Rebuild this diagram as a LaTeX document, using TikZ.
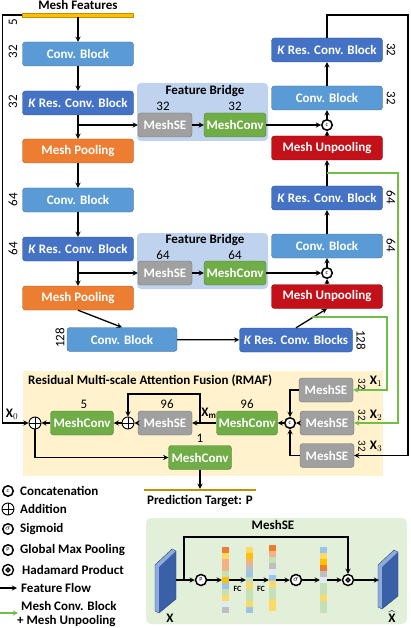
\documentclass[tikz,border=0pt,12pt]{standalone}
\usepackage{fontspec}
\setmainfont{Carlito}
\usepackage{amsmath}

% Colores
\definecolor{convc}{RGB}{91,155,213}
\definecolor{resc}{RGB}{68,114,196}
\definecolor{poolc}{RGB}{237,125,49}
\definecolor{unpc}{RGB}{196,16,24}
\definecolor{sec}{RGB}{160,160,160}
\definecolor{mcc}{RGB}{112,173,71}
\definecolor{bridgec}{RGB}{192,211,238}
\definecolor{rmafc}{RGB}{255,242,204}
\definecolor{panelc}{RGB}{226,239,217}
\definecolor{goldc}{RGB}{255,192,0}
\definecolor{predc}{RGB}{191,144,0}
\definecolor{flowg}{RGB}{112,190,70}
\definecolor{cor}{RGB}{237,125,49}
\definecolor{cpk}{RGB}{244,177,131}
\definecolor{cye}{RGB}{255,217,102}
\definecolor{cgo}{RGB}{255,192,0}
\definecolor{clb}{RGB}{157,195,230}
\definecolor{clg}{RGB}{197,224,180}
\definecolor{cgy}{RGB}{191,191,191}
\definecolor{cwb}{RGB}{222,235,247}

\newcommand\bigf{\fontsize{13}{15.6}\selectfont}

\tikzset{
  blk/.style={draw=#1!70!black, fill=#1, rounded corners=3pt, text=white, font=\bigf\bfseries, minimum height=24pt, inner sep=1pt},
  wide/.style={minimum width=111pt},
  seb/.style={blk=sec, minimum width=54pt},
  mcb/.style={blk=mcc, minimum width=62pt},
  cat/.style={circle, draw, line width=1.5pt, fill=white, inner sep=0pt, minimum size=10.5pt, font=\fontsize{6}{6}\selectfont},
  add/.style={circle, draw, line width=0.9pt, fill=white, inner sep=0pt, minimum size=12pt,
    path picture={\draw[line width=0.9pt] (path picture bounding box.north) -- (path picture bounding box.south)
      (path picture bounding box.west) -- (path picture bounding box.east);}},
  had/.style={circle, draw, line width=1.4pt, fill=white, inner sep=0pt, minimum size=11pt,
    path picture={\draw[line width=1.4pt] (path picture bounding box.center) circle (1.8pt);}},
  numl/.style={rotate=90},
  numr/.style={rotate=-90},
  flow/.style={->, line width=1.3pt},
  gflow/.style={->, line width=1.3pt, draw=flowg},
  ttl/.style={font=\bigf\bfseries},
  leg/.style={anchor=west, font=\bigf\bfseries}
}

\begin{document}
\begin{tikzpicture}[>=stealth, x=1pt, y=-1pt, font=\bigf]
  \useasboundingbox (0,0) rectangle (411,628);

  % Fondos
  \node[fill=bridgec, rounded corners=4pt, minimum width=131pt, minimum height=58pt] (fb1) at (202.5,112) {};
  \node[fill=bridgec, rounded corners=4pt, minimum width=131pt, minimum height=56pt] (fb2) at (202.5,261) {};
  \node[fill=rmafc, minimum width=360pt, minimum height=105pt] (rmaf) at (203,423.5) {};
  \node[fill=panelc, rounded corners=5pt, minimum width=261pt, minimum height=106pt] (sep) at (276.5,571) {};

  % Entrada
  \node[ttl] (feat) at (78,5) {Mesh Features};
  \node[fill=goldc, draw=predc, line width=0.4pt, minimum width=111pt, minimum height=3.5pt, inner sep=0pt] (bar) at (78,15) {};

  % Columna izquierda
  \node[blk=convc, wide] (cb1) at (78,54) {Conv. Block};
  \node[blk=resc, wide] (rb1) at (78,103) {\textit{K} Res. Conv. Block};
  \node[blk=poolc, wide] (mp1) at (78,151) {Mesh Pooling};
  \node[blk=convc, wide] (cb2) at (78,200) {Conv. Block};
  \node[blk=resc, wide] (rb2) at (78,249) {\textit{K} Res. Conv. Block};
  \node[blk=poolc, wide] (mp2) at (78,298) {Mesh Pooling};
  \node[blk=convc, minimum width=110pt] (cb3) at (122,339.5) {Conv. Block};

  \node[numl] at (13,22) {5};
  \node[numl] at (13,52) {32};
  \node[numl] at (13,102) {32};
  \node[numl] at (13,200) {64};
  \node[numl] at (13,249) {64};
  \node[numl] at (60,338) {128};

  % Puentes
  \node[ttl] (fb1t) at (205,91) {Feature Bridge};
  \node[seb] (se1) at (165,125) {MeshSE};
  \node[mcb] (mc1) at (235,125) {MeshConv};
  \node at (163,106) {32};
  \node at (235,106) {32};
  \node[ttl] (fb2t) at (205,240) {Feature Bridge};
  \node[seb] (se2) at (165,273) {MeshSE};
  \node[mcb] (mc2) at (235,273) {MeshConv};
  \node at (163,255) {64};
  \node at (235,255) {64};

  % Columna derecha
  \node[blk=resc, wide] (rb4) at (327,50) {\textit{K} Res. Conv. Block};
  \node[blk=convc, wide] (cb5) at (327,98) {Conv. Block};
  \node[cat] (c1) at (327,125) {c};
  \node[blk=unpc, wide] (up1) at (327,148) {Mesh Unpooling};
  \node[blk=resc, wide] (rb3) at (327,198) {\textit{K} Res. Conv. Block};
  \node[blk=convc, wide] (cb4) at (327,246) {Conv. Block};
  \node[cat] (c2) at (327,273) {c};
  \node[blk=unpc, wide] (up2) at (327,296.5) {Mesh Unpooling};
  \node[blk=resc, minimum width=113pt] (rbb) at (296,340) {\textit{K} Res. Conv. Blocks};

  \node[numr] at (391,50) {32};
  \node[numr] at (391,98) {32};
  \node[numr] at (391,197) {64};
  \node[numr] at (391,245) {64};
  \node[numr] at (361,340) {128};

  % RMAF
  \node[ttl, anchor=west] (rmaft) at (24,381) {Residual Multi-scale Attention Fusion (RMAF)};
  \node[add] (a0) at (35,423) {};
  \node[blk=mcc, minimum width=63pt] (mc5) at (82,423) {MeshConv};
  \node[add] (a1) at (128,423) {};
  \node[seb] (se96) at (165,423) {MeshSE};
  \node[mcb, minimum width=61pt] (mc96) at (247,423) {MeshConv};
  \node[cat] (c3) at (290,423) {c};
  \node[seb] (sx1) at (326,390) {MeshSE};
  \node[seb] (sx2) at (327,423) {MeshSE};
  \node[seb] (sx3) at (327,455.5) {MeshSE};
  \node[blk=mcc, minimum width=63pt] (mc1b) at (200,457.5) {MeshConv};

  \node at (84,404) {5};
  \node at (167,404) {96};
  \node at (247,404) {96};
  \node at (200,438) {1};
  \node (x0) at (12,414) {$\mathbf{X}_0$};
  \node (xm) at (209,413) {$\mathbf{X}_\mathbf{m}$};
  \node[numr, font=\small] at (362,384) {32};
  \node[numr, font=\small] at (362,415) {32};
  \node[numr, font=\small] at (362,446) {32};
  \node (x1) at (376,381) {$\mathbf{X}_1$};
  \node (x2) at (376,415) {$\mathbf{X}_2$};
  \node (x3) at (376,446) {$\mathbf{X}_3$};

  \node[fill=predc, minimum width=112pt, minimum height=1.8pt, inner sep=0pt] (pbar) at (200,490) {};
  \node[ttl] (ptxt) at (200,501) {Prediction Target: $\mathbf{P}$};

  % Flechas
  \draw[flow] (bar) -- (cb1);
  \draw[flow] (cb1) -- (rb1);
  \draw[flow] (rb1) -- (mp1);
  \draw[flow] (rb1.south |- se1) -- (se1);
  \draw[flow] (mp1) -- (cb2);
  \draw[flow] (cb2) -- (rb2);
  \draw[flow] (rb2) -- (mp2);
  \draw[flow] (rb2.south |- se2) -- (se2);
  \draw[flow] (mp2.south) -- (cb3.north);
  \draw[flow] (cb3) -- (rbb);
  \draw[flow] (rbb.north) -- (up2.south);
  \draw[flow] (se1) -- (mc1);
  \draw[flow] (mc1) -- (c1);
  \draw[flow] (se2) -- (mc2);
  \draw[flow] (mc2) -- (c2);
  \draw[flow] (up2) -- (c2);
  \draw[flow] (c2) -- (cb4);
  \draw[flow] (cb4) -- (rb3);
  \draw[flow] (rb3) -- (up1);
  \draw[flow] (up1) -- (c1);
  \draw[flow] (c1) -- (cb5);
  \draw[flow] (cb5) -- (rb4);

  \coordinate (rt) at (408,15);
  \draw[flow] (rb4.north) |- (rt) |- (sx3.east);
  \draw[flow] (bar.west) -- ++(-20,0) |- (a0);

  \coordinate (g1) at (327,173);
  \coordinate (g1r) at (398,173);
  \draw[gflow] (g1) -- (g1r) |- (sx2.east);
  \coordinate (g2) at (312,317);
  \coordinate (g2r) at (387,317);
  \draw[gflow] (g2) -- (g2r) |- (sx1.east);

  \draw[flow] (sx2) -- (c3);
  \draw[flow] (sx1.west) -| (c3.north);
  \draw[flow] (sx3.west) -| (c3.south);
  \draw[flow] (c3) -- (mc96);
  \draw[flow] (mc96) -- (se96);
  \coordinate (lp) at (200,423);
  \draw[flow] (lp) -- ++(0,-29) -| (a1.north);
  \draw[flow] (se96) -- (a1);
  \draw[flow] (a1) -- (mc5);
  \draw[flow] (mc5) -- (a0);
  \draw[flow] (a0.south) |- (mc1b.west);
  \draw[flow] (mc1b.south) -- (pbar.north);

  % Leyenda
  \node[cat] (lc) at (8,491) {c};
  \node[leg] at (16,491) {Concatenation};
  \node[add] (la) at (8,509) {};
  \node[leg] at (16,509) {Addition};
  \node[cat, font=\fontsize{8}{8}\selectfont] (ls) at (8,529) {$\sigma$};
  \node[leg] at (16,529) {Sigmoid};
  \node[cat, font=\fontsize{6}{6}\selectfont] (lg) at (8,550) {P};
  \node[leg] at (16,550) {Global Max Pooling};
  \node[had] (lh) at (8,570) {};
  \node[leg] at (18,570) {Hadamard Product};
  \coordinate (ff0) at (0,588);
  \coordinate (ff1) at (17,588);
  \draw[flow] (ff0) -- (ff1);
  \node[leg] at (17,588) {Feature Flow};
  \coordinate (gf0) at (0,613);
  \coordinate (gf1) at (18,613);
  \draw[gflow] (gf0) -- (gf1);
  \node[leg] at (17,606) {Mesh Conv. Block};
  \node[leg] at (13,621) {+ Mesh Unpooling};

  % MeshSE
  \node[ttl] (sept) at (273,525) {MeshSE};
  \fill[resc!60] (155,565) -- (172,549) -- (176,551) -- (159,567) -- (159,613) -- (155,611) -- cycle;
  \fill[resc!85!black] (159,567) -- (176,551) -- (176,599) -- (159,613) -- cycle;
  \draw[resc!60!black, line width=0.4pt] (155,565) -- (172,549) -- (176,551) -- (176,599) -- (159,613) -- (155,611) -- cycle;
  \fill[resc!60] (378,565) -- (394,550) -- (398,552) -- (382,567) -- (382,609) -- (378,607) -- cycle;
  \fill[resc!85!black] (382,567) -- (398,552) -- (398,596) -- (382,609) -- cycle;
  \draw[resc!60!black, line width=0.4pt] (378,565) -- (394,550) -- (398,552) -- (398,596) -- (382,609) -- (378,607) -- cycle;
  \node (xin) at (170,618) {$\mathbf{X}$};
  \node (xout) at (392,617) {$\widehat{\mathbf{X}}$};

  \foreach \c [count=\i] in {cor,cye,cpk,cpk,clg,cgo,clb,clg,cye,cwb,cgy}
    \fill[\c] (222,541+6*\i) rectangle ++(7,6);
  \foreach \c [count=\i] in {cye,cgo,cpk,cgy,clb,clg,cye,clg,clg,cye,clb}
    \fill[\c] (246,541+6*\i) rectangle ++(7,6);
  \foreach \c [count=\i] in {cor,cpk,clg,cgy,cwb,clb,cye,clg,clg,cye,cye}
    \fill[\c] (269,539+6*\i) rectangle ++(7,6);
  \foreach \c [count=\i] in {clb,cye,cgo,cor,cgy,cwb,clg,clg,cye,clg,clg}
    \fill[\c] (320,541+6*\i) rectangle ++(7,6);
  \node[inner sep=0pt, minimum width=7pt, minimum height=66pt] (v1) at (225.5,580) {};
  \node[inner sep=0pt, minimum width=7pt, minimum height=66pt] (v2) at (249.5,580) {};
  \node[inner sep=0pt, minimum width=7pt, minimum height=66pt] (v3) at (272.5,578) {};
  \node[inner sep=0pt, minimum width=7pt, minimum height=66pt] (v4) at (323.5,580) {};

  \node[cat, font=\fontsize{6}{6}\selectfont, minimum size=11pt] (gp) at (201,580) {P};
  \node[cat, font=\fontsize{8}{8}\selectfont, minimum size=11pt] (sg) at (296,580) {$\sigma$};
  \node[had] (hd) at (348,580) {};
  \coordinate (pin) at (176,580);
  \coordinate (pout) at (379,580);
  \coordinate (sk) at (184,580);
  \draw[flow] (pin) -- (gp);
  \draw[flow] (sk) -- ++(0,-43) -| (hd.north);
  \draw[flow] (gp) -- (v1.west |- gp);
  \draw[flow] (v1.east |- gp) -- node[below=2pt, font=\fontsize{8}{8}\selectfont\bfseries] {FC} (v2.west |- gp);
  \draw[flow] (v2.east |- gp) -- node[below=2pt, font=\fontsize{8}{8}\selectfont\bfseries] {FC} (v3.west |- gp);
  \draw[flow] (v3.east |- gp) -- (sg);
  \draw[flow] (sg) -- (v4.west |- sg);
  \draw[flow] (v4.east |- hd) -- (hd);
  \draw[flow] (hd) -- (pout);
\end{tikzpicture}
\end{document}
